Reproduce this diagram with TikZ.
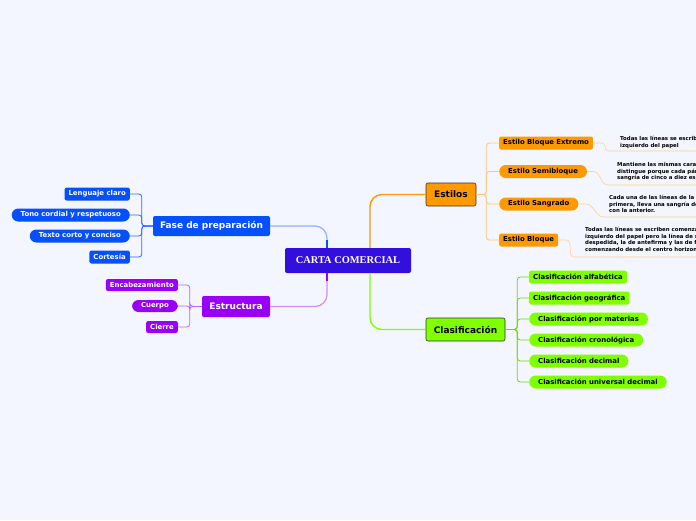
\documentclass[tikz,border=0pt]{standalone}
\usepackage{fontspec}
\setmainfont{DejaVu Sans}
\newfontfamily\titlefont{Liberation Serif}
\usetikzlibrary{positioning}
\definecolor{bg}{RGB}{243,246,254}
\definecolor{cblue}{RGB}{5,80,250}
\definecolor{cpurple}{RGB}{153,0,245}
\definecolor{ccentral}{RGB}{50,15,220}
\definecolor{corange}{RGB}{255,153,0}
\definecolor{cgreen}{RGB}{128,255,0}
\tikzset{
  topic/.style={rounded corners=2pt, minimum height=21pt, inner xsep=5pt, font=\fontsize{9}{10}\selectfont\bfseries},
  leaf/.style={rounded corners=2pt, minimum height=13pt, inner xsep=4pt, inner ysep=0pt, font=\fontsize{6.9}{8}\selectfont\bfseries},
  pill/.style={leaf, rounded corners=6.5pt, inner xsep=9pt},
  note/.style={anchor=north west, align=left, inner sep=0pt, font=\fontsize{5.4}{6.7}\selectfont\bfseries},
  notelink/.style={draw=corange!45, line width=0.6pt},
}
\begin{document}
\begin{tikzpicture}[x=1pt,y=-1pt]
\path[use as bounding box, fill=bg] (0,0) rectangle (696,520);
\clip (0,0) rectangle (696,520);

% main ideas
\node[fill=ccentral, text=white, rounded corners=2pt, minimum width=126pt, minimum height=25pt,
  font=\titlefont\fontsize{10.4}{12}\selectfont\bfseries] (cc) at (348,260.5) {CARTA COMERCIAL};
\node[topic, fill=corange, draw=black!80, line width=0.6pt, minimum width=50pt, minimum height=23pt] (est) at (451,194.5) {Estilos};
\node[topic, fill=cgreen, draw=black!80, line width=0.6pt, minimum width=79pt, minimum height=23pt] (clas) at (465.5,329.5) {Clasificación};
\node[topic, fill=cblue, text=white, minimum width=117pt, minimum height=20pt] (fase) at (211.5,226) {Fase de preparación};
\node[topic, fill=cpurple, text=white, minimum width=68pt] (estr) at (236,306.5) {Estructura};

\draw[corange, line width=1.4pt, rounded corners=12pt] ([xshift=22pt]cc.north) |- (est.west);
\draw[cgreen, line width=1.4pt, rounded corners=12pt] ([xshift=22pt]cc.south) |- (clas.west);
\draw[cblue!45, line width=1.2pt, rounded corners=12pt] ([xshift=-21pt]cc.north) |- (fase.east);
\draw[cblue, line width=1.6pt] ([xshift=-21pt]cc.north) -- ++(0,-8);
\draw[cpurple!45, line width=1.2pt, rounded corners=12pt] ([xshift=-21pt]cc.south) |- (estr.east);
\draw[cpurple, line width=1.6pt] ([xshift=-21pt]cc.south) -- ++(0,8);

% Estilos
\node[leaf, fill=corange, anchor=west] (bx) at (499,143) {Estilo Bloque Extremo};
\node[pill, fill=corange, anchor=west] (sb) at (499,171.5) {Estilo Semibloque};
\node[pill, fill=corange, anchor=west] (sg) at (499,204) {Estilo Sangrado};
\node[leaf, fill=corange, anchor=west] (bq) at (499,240) {Estilo Bloque};
\foreach \c in {bx,sb,sg,bq}
  \draw[corange!55, line width=0.8pt, rounded corners=3pt] (est.east) -- ++(10,0) |- (\c.west);

\node[note] (n1) at (620,136) {Todas las líneas se escriben comenzando en el margen\\izquierdo del papel};
\node[note] (n2) at (617,162) {Mantiene las mismas características del estilo bloque, se\\distingue porque cada párrafo comienza con una\\sangría de cinco a diez espacios.};
\node[note] (n3) at (609,195) {Cada una de las líneas de la dirección interior, a partir de la\\primera, lleva una sangría de cinco espacios en relación\\con la anterior.};
\node[note] (n4) at (585,227) {Todas las líneas se escriben comenzando desde el margen\\izquierdo del papel pero  la línea de saludo, la de\\despedida, la de antefirma y las de firma se escriben\\comenzando desde el centro horizontal del papel.};
\coordinate (e1) at (696,151);
\coordinate (e2) at (696,185);
\coordinate (e3) at (696,217);
\coordinate (e4) at (696,257);
\draw[notelink] (bx.east) -- ++(9,0) to[out=0,in=180] (608,151) -- (e1);
\draw[notelink] (sb.east) -- ++(6,0) to[out=0,in=180] (608,185) -- (e2);
\draw[notelink] (sg.east) -- ++(7,0) to[out=0,in=180] (604,217) -- (e3);
\draw[notelink] (bq.east) -- ++(8,0) to[out=0,in=180] (574,257) -- (e4);

% Clasificacion
\node[leaf, fill=cgreen, anchor=west] (alf) at (529,277) {Clasificación alfabética};
\node[leaf, fill=cgreen, anchor=west] (geo) at (529,298) {Clasificación geográfica};
\node[pill, fill=cgreen, anchor=west] (mat) at (529,319) {Clasificación por materias};
\node[pill, fill=cgreen, anchor=west] (cro) at (529,340) {Clasificación cronológica};
\node[pill, fill=cgreen, anchor=west] (dec) at (529,361) {Clasificación decimal};
\node[pill, fill=cgreen, anchor=west] (uni) at (529,382) {Clasificación universal decimal};
\foreach \c in {alf,geo,mat,cro,dec,uni}
  \draw[cgreen!80!black!70!cgreen, line width=0.8pt, rounded corners=3pt] (clas.east) -- ++(12,0) |- (\c.west);

% Fase de preparacion
\node[leaf, fill=cblue, text=white, anchor=east] (len) at (130,194) {Lenguaje claro};
\node[pill, fill=cblue, text=white, anchor=east] (ton) at (130,215) {Tono cordial y respetuoso};
\node[pill, fill=cblue, text=white, anchor=east] (tex) at (130,236) {Texto corto y conciso};
\node[leaf, fill=cblue, text=white, anchor=east] (cor) at (130,257) {Cortesía};
\foreach \c in {len,ton,tex,cor}
  \draw[cblue!85, line width=0.8pt, rounded corners=3pt] (fase.west) -- ++(-11,0) |- (\c.east);

% Estructura
\node[leaf, fill=cpurple, text=white, minimum height=12pt, anchor=east] (enc) at (178,285) {Encabezamiento};
\node[pill, fill=cpurple, text=white, minimum height=12pt, anchor=east] (cue) at (178,306) {Cuerpo};
\node[leaf, fill=cpurple, text=white, minimum height=12pt, anchor=east] (cie) at (178,327) {Cierre};
\foreach \c in {enc,cue,cie}
  \draw[cpurple!60, line width=0.8pt, rounded corners=3pt] (estr.west) -- ++(-12,0) |- (\c.east);
\end{tikzpicture}
\end{document}
